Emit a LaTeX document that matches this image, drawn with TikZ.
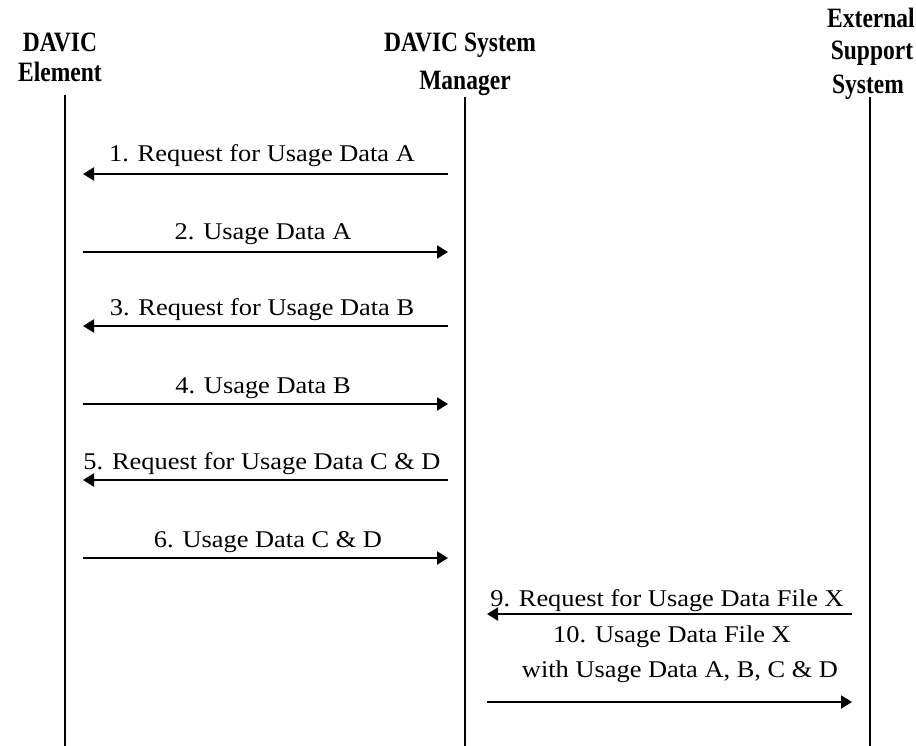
\documentclass[tikz,border=0pt]{standalone}
\usepackage{fontspec}
\setmainfont{Liberation Serif}
\newfontfamily\lblfont[FakeStretch=1.1]{Liberation Serif}
\newfontfamily\hdrfont[FakeStretch=0.84]{Liberation Serif Bold}
\usetikzlibrary{arrows.meta}
\begin{document}
\begin{tikzpicture}[x=1pt,y=-1pt,
  hdr/.style={font=\hdrfont\fontsize{28}{30}\selectfont, inner sep=0pt, anchor=base},
  lbl/.style={font=\lblfont\fontsize{24}{26}\selectfont, inner sep=0pt, anchor=base},
  life/.style={line width=2pt},
  msg/.style={line width=2.2pt, -{Triangle[length=11pt,width=13pt]}}]
\useasboundingbox (0,0) rectangle (916,746);
% headers
\node[hdr] (h1a) at (60,52) {DAVIC};
\node[hdr] (h1b) at (60,82) {Element};
\node[hdr] (h2a) at (460,52) {DAVIC System};
\node[hdr] (h2b) at (465,90) {Manager};
\node[hdr] (h3a) at (871,28) {External};
\node[hdr] (h3b) at (872,60) {Support};
\node[hdr] (h3c) at (868,94) {System};
% lifelines
\coordinate (l1t) at (65,95);  \coordinate (l1b) at (65,746);
\coordinate (l2t) at (465,97); \coordinate (l2b) at (465,746);
\coordinate (l3t) at (870,97); \coordinate (l3b) at (870,746);
\draw[life] (l1t) -- (l1b);
\draw[life] (l2t) -- (l2b);
\draw[life] (l3t) -- (l3b);
% message endpoints
\foreach \n/\y in {1/174,2/252,3/326,4/404,5/480,6/558}{
  \coordinate (a\n) at (83,\y);
  \coordinate (b\n) at (448,\y);
}
\foreach \n/\y in {9/614,10/702}{
  \coordinate (a\n) at (487,\y);
  \coordinate (b\n) at (852,\y);
}
\draw[msg] (b1) -- (a1);
\draw[msg] (a2) -- (b2);
\draw[msg] (b3) -- (a3);
\draw[msg] (a4) -- (b4);
\draw[msg] (b5) -- (a5);
\draw[msg] (a6) -- (b6);
\draw[msg] (b9) -- (a9);
\draw[msg] (a10) -- (b10);
% labels
\node[lbl] (t1) at (262,162) {1. Request for Usage Data A};
\node[lbl] (t2) at (263,240) {2. Usage Data A};
\node[lbl] (t3) at (262,316) {3. Request for Usage Data B};
\node[lbl] (t4) at (263,393) {4. Usage Data B};
\node[lbl] (t5) at (262,469) {5. Request for Usage Data C \& D};
\node[lbl] (t6) at (268,547) {6. Usage Data C \& D};
\node[lbl] (t9) at (667,606) {9. Request for Usage Data File X};
\node[lbl] (t10a) at (672,642) {10. Usage Data File X};
\node[lbl] (t10b) at (680,677) {with Usage Data A, B, C \& D};
\end{tikzpicture}
\end{document}
